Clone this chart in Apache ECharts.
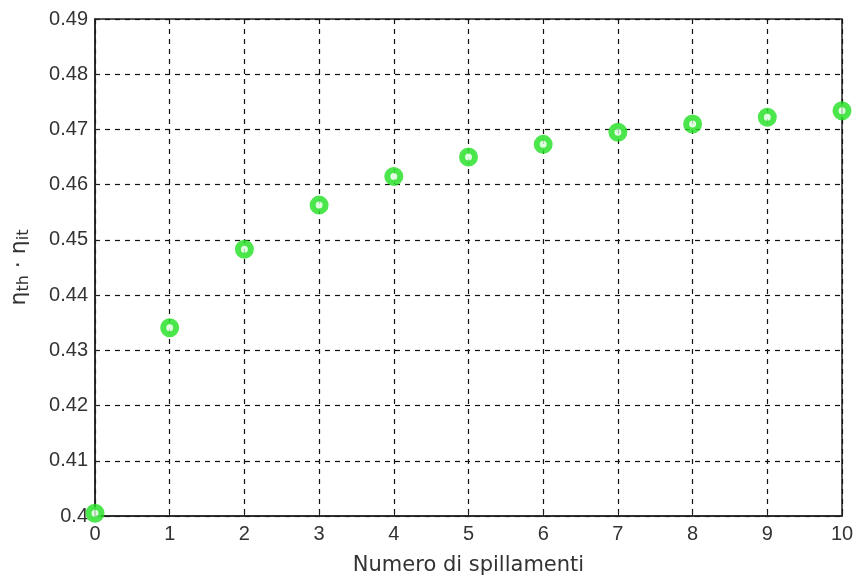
<!DOCTYPE html>
<html>
<head>
<meta charset="utf-8">
<script src="https://cdn.jsdelivr.net/npm/echarts@6/dist/echarts.min.js"></script>
<style>
html, body { margin: 0; padding: 0; background: #fff; }
#main { width: 853px; height: 577px; }
</style>
</head>
<body>
<div id="main"></div>
<script>
var spillamenti = [0, 1, 2, 3, 4, 5, 6, 7, 8, 9, 10];
var rendimento = [0.4005, 0.4341, 0.4483, 0.4563, 0.4615, 0.4650, 0.4673, 0.4695, 0.4710, 0.4722, 0.4734];

var chart = echarts.init(document.getElementById('main'));

var points = spillamenti.map(function (x, i) { return [x, rendimento[i]]; });
var tickFont = 'Liberation Sans';
var nameFont = 'DejaVu Sans';

var option = {
    backgroundColor: '#fff',
    animation: false,
    grid: {
        left: 95,
        right: 11,
        top: 19,
        bottom: 61,
        outerBoundsMode: 'none',
        show: true,
        borderColor: '#222',
        borderWidth: 1.5
    },
    xAxis: {
        type: 'value',
        min: 0,
        max: 10,
        interval: 1,
        name: 'Numero di spillamenti',
        nameLocation: 'middle',
        nameGap: 39,
        nameTextStyle: { fontSize: 21, color: '#333', fontFamily: nameFont },
        axisLine: { show: true, lineStyle: { color: '#222', width: 1.5 } },
        axisTick: { show: true, inside: true, length: 5, lineStyle: { color: '#222' } },
        axisLabel: { fontSize: 20, color: '#333', margin: 8, fontFamily: tickFont },
        splitLine: { show: true, lineStyle: { color: '#111', type: [5, 5], width: 1.2 } }
    },
    yAxis: {
        type: 'value',
        min: 0.40,
        max: 0.49,
        interval: 0.01,
        name: '{a|η}{s|th}{a| · η}{s|it}',
        nameLocation: 'middle',
        nameGap: 63,
        nameRotate: 90,
        nameTextStyle: {
            rich: {
                a: { fontSize: 22, color: '#333', fontFamily: nameFont },
                s: { fontSize: 16, color: '#333', fontFamily: nameFont, verticalAlign: 'bottom', padding: [9, 0, 0, 0] }
            }
        },
        axisLine: { show: true, lineStyle: { color: '#222', width: 1.5 } },
        axisTick: { show: true, inside: true, length: 5, lineStyle: { color: '#222' } },
        axisLabel: {
            fontSize: 20, color: '#333', margin: 7, fontFamily: tickFont,
            formatter: function (v) { return String(Math.round(v * 100) / 100); }
        },
        splitLine: { show: true, lineStyle: { color: '#111', type: [5, 5], width: 1.2 } }
    },
    series: [{
        type: 'scatter',
        data: points,
        symbol: 'circle',
        symbolSize: 13,
        itemStyle: {
            color: '#d8ffd8',
            borderColor: '#22e022',
            borderWidth: 6
        }
    }]
};

chart.setOption(option);
</script>
</body>
</html>
